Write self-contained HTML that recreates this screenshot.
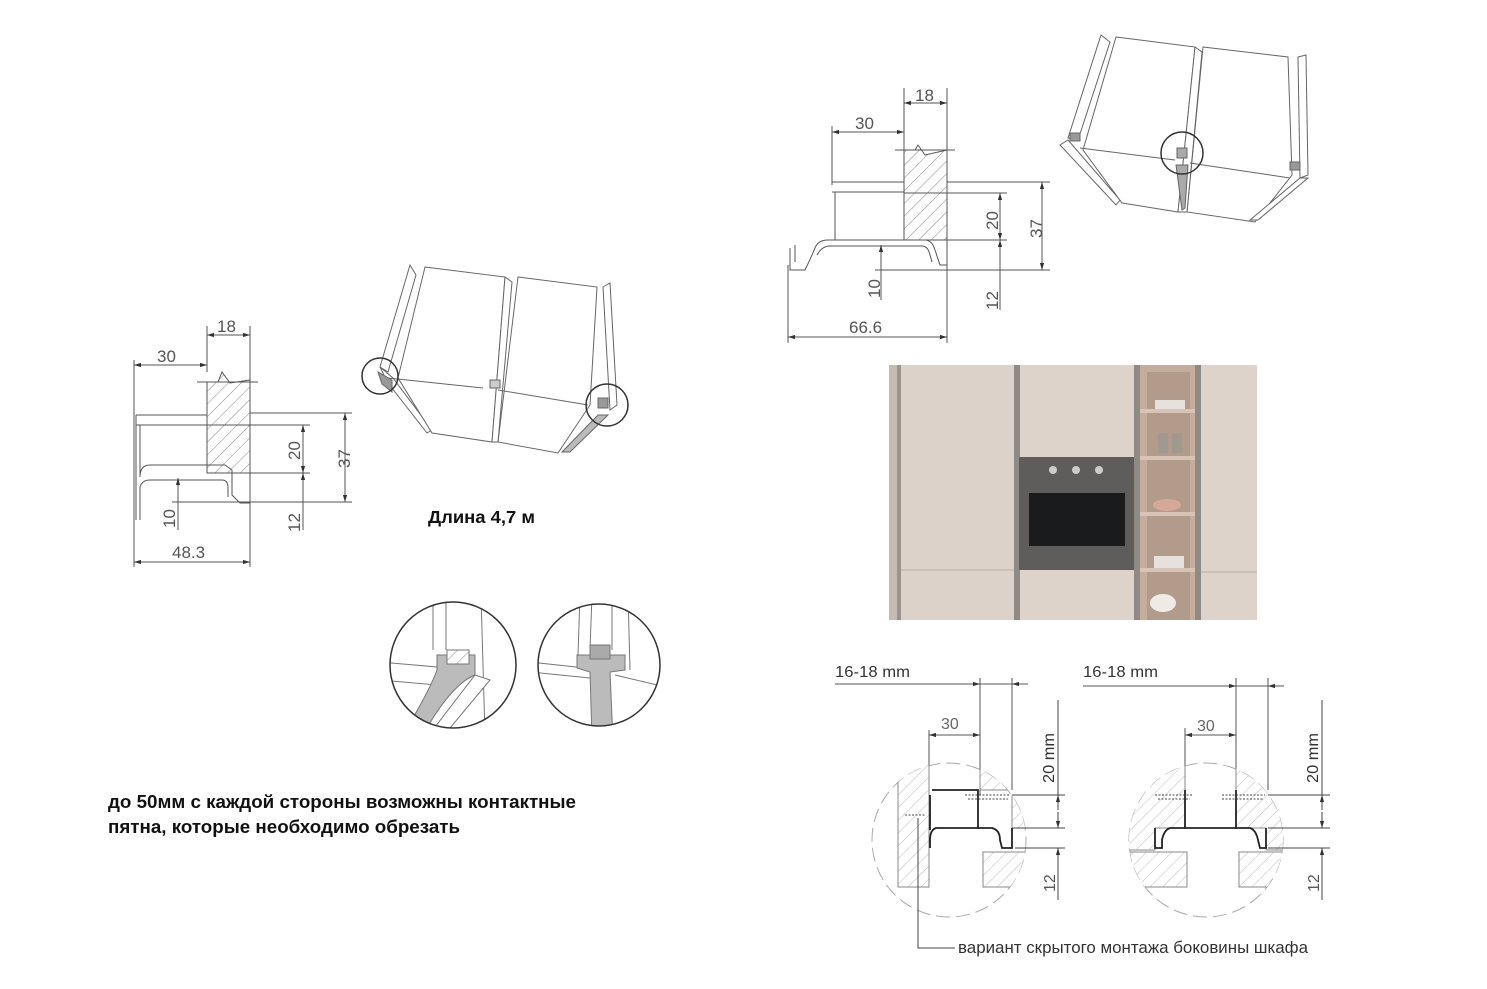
<!DOCTYPE html>
<html><head><meta charset="utf-8"><style>
html,body{margin:0;padding:0;background:#fff;}
svg{display:block;}
text{font-family:"Liberation Sans",sans-serif;}
</style></head><body>
<svg width="1487" height="989" viewBox="0 0 1487 989" xmlns="http://www.w3.org/2000/svg">
<defs>
<pattern id="h" width="9" height="9" patternUnits="userSpaceOnUse" patternTransform="rotate(45)">
<rect width="9" height="9" fill="#fff"/><line x1="0" y1="0" x2="0" y2="9" stroke="#888" stroke-width="1"/></pattern>
<pattern id="hl" width="9" height="9" patternUnits="userSpaceOnUse" patternTransform="rotate(45)">
<rect width="9" height="9" fill="#fff"/><line x1="0" y1="0" x2="0" y2="9" stroke="#bbb" stroke-width="1"/></pattern>
<marker id="a" viewBox="0 0 10 10" refX="10" refY="5" markerWidth="7" markerHeight="7" orient="auto-start-reverse"><path d="M0,2L10,5L0,8z" fill="#333"/></marker>
</defs>

<!-- ===== LEFT PROFILE ===== -->
<g stroke="#555" fill="none" stroke-width="1">
<line x1="134" y1="360" x2="134" y2="567"/>
<line x1="207" y1="326" x2="207" y2="372"/>
<line x1="250" y1="326" x2="250" y2="567"/>
<line x1="207" y1="335" x2="250" y2="335" marker-start="url(#a)" marker-end="url(#a)"/>
<line x1="134" y1="365" x2="207" y2="365" marker-start="url(#a)" marker-end="url(#a)"/>
<path d="M207,473 L207,382 L218,382 L222,372 L230,383 L250,380 L250,473 Z" fill="url(#h)"/>
<line x1="197" y1="382" x2="258" y2="382"/>
<path d="M136,415 L207,415 M136,425 L207,425 M140,425 L140,475 M136,415 L136,520"/>
<path d="M140,477 Q140,465 150,465 L225,465 L232,470 L232,495 L240,503 L250,503 L250,473"/>
<path d="M140,520 L140,487 Q142,480 150,480 L222,480 Q228,480 228,488 L228,497"/>
<line x1="250" y1="413" x2="352" y2="413"/><line x1="207" y1="425" x2="310" y2="425"/>
<line x1="250" y1="473" x2="310" y2="473"/><line x1="172" y1="502" x2="352" y2="502"/>
<line x1="345" y1="413" x2="345" y2="502" marker-start="url(#a)" marker-end="url(#a)"/>
<line x1="303" y1="425" x2="303" y2="473" marker-start="url(#a)" marker-end="url(#a)"/>
<line x1="303" y1="473" x2="303" y2="530" marker-start="url(#a)"/>
<line x1="178" y1="478" x2="178" y2="530" marker-start="url(#a)"/>
<line x1="134" y1="562" x2="250" y2="562" marker-start="url(#a)" marker-end="url(#a)"/>
</g>
<g fill="#555" font-size="17">
<text x="217" y="332">18</text><text x="157" y="362">30</text><text x="172" y="558">48.3</text>
<text transform="translate(300,460) rotate(-90)">20</text>
<text transform="translate(350,468) rotate(-90)">37</text>
<text transform="translate(300,532) rotate(-90)">12</text>
<text transform="translate(175,528) rotate(-90)">10</text>
</g>

<!-- ===== TOP RIGHT PROFILE ===== -->
<g stroke="#555" fill="none" stroke-width="1">
<line x1="832" y1="126" x2="832" y2="185"/>
<line x1="904" y1="88" x2="904" y2="150"/>
<line x1="947" y1="88" x2="947" y2="343"/>
<line x1="788" y1="265" x2="788" y2="343"/>
<line x1="904" y1="103" x2="947" y2="103" marker-start="url(#a)" marker-end="url(#a)"/>
<line x1="832" y1="132" x2="904" y2="132" marker-start="url(#a)" marker-end="url(#a)"/>
<path d="M904,240 L904,150 L915,150 L918,145 L925,155 L947,150 L947,240 Z" fill="url(#h)"/>
<line x1="895" y1="150" x2="955" y2="150"/>
<path d="M832,182 L904,182 M832,192 L904,192 M835,192 L835,240 M832,126 L832,185"/>
<path d="M790,248 L790,270 L805,270 Q810,260 815,248 Q818,240 828,240 L925,240 Q932,240 935,250 L940,265 L947,265"/>
<path d="M795,245 L795,262 M817,255 Q822,246 830,246 L922,246 Q928,246 930,255 L932,262"/>
<line x1="947" y1="182" x2="1050" y2="182"/><line x1="904" y1="193" x2="1007" y2="193"/>
<line x1="947" y1="240" x2="1007" y2="240"/><line x1="875" y1="270" x2="1050" y2="270"/>
<line x1="1042" y1="182" x2="1042" y2="270" marker-start="url(#a)" marker-end="url(#a)"/>
<line x1="1000" y1="193" x2="1000" y2="240" marker-start="url(#a)" marker-end="url(#a)"/>
<line x1="1000" y1="240" x2="1000" y2="310" marker-start="url(#a)"/>
<line x1="881" y1="245" x2="881" y2="300" marker-start="url(#a)"/>
<line x1="788" y1="337" x2="947" y2="337" marker-start="url(#a)" marker-end="url(#a)"/>
</g>
<g fill="#555" font-size="17">
<text x="915" y="101">18</text><text x="855" y="129">30</text><text x="849" y="333">66.6</text>
<text transform="translate(998,230) rotate(-90)">20</text>
<text transform="translate(1042,238) rotate(-90)">37</text>
<text transform="translate(998,310) rotate(-90)">12</text>
<text transform="translate(880,298) rotate(-90)">10</text>
</g>

<!-- ===== LEFT CABINET ISO ===== -->
<g stroke="#666" fill="#fff" stroke-width="1">
<path d="M410,265 L416,275 L388,372 L380,367 Z"/>
<path d="M380,367 L388,383 L427,433 L432,430 L393,378 Z"/>
<path d="M425,267 L505,277 L492,442 L432,433 L398,378 Z"/>
<path d="M518,277 L597,287 L590,405 L558,453 L498,442 Z"/>
<path d="M505,277 L512,282 L498,442 L492,442 Z"/>
<path d="M388,378 L483,388 M498,390 L588,405"/>
<path d="M603,287 L610,283 L617,405 L610,410 Z"/>
<path d="M598,415 L608,415 L570,452 L562,452 Z" fill="#bbb"/>
<rect x="490" y="380" width="10" height="8" fill="#ccc"/>
<path d="M378,372 L392,380 L392,392 L382,384 Z" fill="#999"/>
<rect x="598" y="398" width="10" height="10" fill="#999"/>
</g>
<circle cx="380" cy="376" r="18" stroke="#333" stroke-width="1.5" fill="none"/>
<circle cx="607" cy="405" r="21" stroke="#333" stroke-width="1.5" fill="none"/>

<!-- ===== TOP RIGHT CABINET ISO ===== -->
<g stroke="#666" fill="#fff" stroke-width="1">
<path d="M1101,35 L1110,42 L1078,140 L1068,138 Z"/>
<path d="M1060,145 L1068,140 L1120,200 L1116,205 Z"/>
<path d="M1116,37 L1195,47 L1178,212 L1122,203 L1083,150 Z"/>
<path d="M1203,47 L1288,57 L1292,175 L1255,222 L1187,212 Z"/>
<path d="M1195,47 L1202,52 L1187,212 L1178,212 Z"/>
<path d="M1080,148 L1175,160 M1190,163 L1290,178"/>
<path d="M1298,57 L1306,55 L1308,175 L1300,178 Z"/>
<path d="M1300,178 L1308,178 L1258,220 L1250,220 Z"/>
<path d="M1176,165 L1188,165 L1185,208 L1182,210 Z" fill="#aaa"/>
<rect x="1070" y="133" width="10" height="8" fill="#999"/>
<rect x="1290" y="162" width="10" height="8" fill="#999"/>
<rect x="1177" y="148" width="10" height="10" fill="#aaa"/>
</g>
<circle cx="1182" cy="153" r="21" stroke="#333" stroke-width="1.5" fill="none"/>

<!-- ===== DETAIL CIRCLES ===== -->
<g>
<clipPath id="c1"><circle cx="453" cy="665" r="63"/></clipPath>
<g clip-path="url(#c1)" stroke="#777" fill="#fff">
<path d="M433,595 L433,650 M446,595 L446,650 M481,595 L485,735"/>
<path d="M380,662 L437,667 L437,685 L380,680"/>
<path d="M437,655 L475,655 L475,675 Q450,685 420,740 L400,740 Q430,690 437,670 Z" fill="#bbb"/>
<rect x="447" y="650" width="22" height="14" fill="url(#h)"/>
<path d="M475,675 L490,680 L440,740 L425,740 Z" fill="#fff"/>
</g>
<circle cx="453" cy="665" r="63" fill="none" stroke="#333" stroke-width="1.5"/>
<clipPath id="c2"><circle cx="599" cy="665" r="61"/></clipPath>
<g clip-path="url(#c2)" stroke="#777" fill="#fff">
<path d="M580,595 L578,655 M592,595 L590,650 M612,595 L612,650 M628,595 L630,670"/>
<path d="M530,662 L585,668 M530,672 L590,678 M615,675 L670,688"/>
<path d="M577,655 L625,655 L625,670 L610,672 L613,740 L592,740 L590,672 L577,668 Z" fill="#bbb"/>
<rect x="590" y="645" width="20" height="14" fill="#aaa"/>
</g>
<circle cx="599" cy="665" r="61" fill="none" stroke="#333" stroke-width="1.5"/>
</g>

<!-- texts left -->
<text x="428" y="523" font-size="17.5" font-weight="bold" fill="#111" textLength="107" lengthAdjust="spacingAndGlyphs">Длина 4,7 м</text>
<text x="108" y="808" font-size="18.5" font-weight="bold" fill="#111" textLength="468" lengthAdjust="spacingAndGlyphs">до 50мм с каждой стороны возможны контактные</text>
<text x="108" y="833" font-size="18.5" font-weight="bold" fill="#111" textLength="352" lengthAdjust="spacingAndGlyphs">пятна, которые необходимо обрезать</text>

<!-- ===== PHOTO ===== -->
<g>
<rect x="889" y="365" width="368" height="255" fill="#d8cdc4"/>
<rect x="889" y="365" width="10" height="255" fill="#c6bbb2"/>
<rect x="897" y="365" width="4" height="255" fill="#9a948f"/>
<rect x="901" y="365" width="113" height="255" fill="#ddd2c9"/>
<line x1="901" y1="570" x2="1014" y2="570" stroke="#b8ada4"/>
<rect x="1014" y="365" width="6" height="255" fill="#8f8a86"/>
<rect x="1020" y="365" width="114" height="255" fill="#ddd3ca"/>
<rect x="1019" y="457" width="116" height="113" fill="#5f5d5b"/>
<rect x="1029" y="493" width="96" height="53" fill="#1a1b1c"/>
<circle cx="1053" cy="470" r="4" fill="#ccc"/><circle cx="1076" cy="470" r="4" fill="#ccc"/><circle cx="1099" cy="470" r="4" fill="#ccc"/>
<rect x="1134" y="365" width="6" height="255" fill="#8f8a86"/>
<rect x="1140" y="365" width="55" height="255" fill="#c5ad9d"/>
<rect x="1147" y="372" width="43" height="248" fill="#b39b8c"/>
<g fill="#d8c4b6"><rect x="1140" y="409" width="55" height="4"/><rect x="1140" y="456" width="55" height="4"/><rect x="1140" y="512" width="55" height="4"/><rect x="1140" y="568" width="55" height="4"/></g>
<rect x="1155" y="400" width="30" height="9" fill="#e6e1dc"/>
<rect x="1158" y="433" width="10" height="20" fill="#a09990"/><rect x="1172" y="433" width="10" height="20" fill="#a09990"/>
<ellipse cx="1167" cy="505" rx="14" ry="6" fill="#d6a899"/>
<rect x="1154" y="556" width="30" height="12" fill="#e6e1dc"/>
<ellipse cx="1163" cy="603" rx="13" ry="9" fill="#efeae5"/>
<rect x="1195" y="365" width="6" height="255" fill="#8f8a86"/>
<rect x="1201" y="365" width="56" height="255" fill="#ddd3ca"/>
<line x1="1201" y1="572" x2="1257" y2="572" stroke="#b8ada4"/>
</g>

<!-- ===== BOTTOM DETAIL LEFT ===== -->
<g stroke="#555" fill="none" stroke-width="1">
<line x1="835" y1="684" x2="1012" y2="684"/>
<line x1="980" y1="678" x2="980" y2="795"/><line x1="1012" y1="678" x2="1012" y2="790"/>
<line x1="965" y1="684" x2="980" y2="684" marker-end="url(#a)"/>
<line x1="1028" y1="684" x2="1012" y2="684" marker-end="url(#a)"/>
<line x1="929" y1="730" x2="929" y2="790"/>
<line x1="929" y1="735" x2="980" y2="735" marker-start="url(#a)" marker-end="url(#a)"/>
<circle cx="949" cy="840" r="77" stroke="#aaa" stroke-dasharray="14,6"/>
</g>
<clipPath id="c3"><circle cx="949" cy="840" r="77"/></clipPath>
<g clip-path="url(#c3)" stroke="#888" stroke-width="1">
<rect x="898" y="760" width="31" height="127" fill="url(#hl)"/>
<path d="M980,760 L1040,760 L1040,828 L1012,828 L1012,790 L980,790 Z" fill="url(#hl)"/>
<rect x="983" y="852" width="60" height="35" fill="url(#hl)"/>
</g>
<g stroke="#222" fill="none" stroke-width="1.8">
<path d="M932,790 L978,790 L978,828 L936,828 Q930,830 930,840 L930,848"/>
<path d="M978,828 L992,828 Q1000,830 1000,840 L1002,848 L1012,848 L1012,828"/>
<path d="M930,795 L930,830"/>
</g>
<g stroke="#444" stroke-width="1" fill="none">
<path d="M965,795 L1010,795 M968,799 L1008,799" stroke-dasharray="2,1.5"/>
<path d="M905,815 L925,815" stroke-dasharray="2,1.5"/>
<line x1="1012" y1="795" x2="1065" y2="795"/><line x1="1012" y1="828" x2="1065" y2="828"/>
<line x1="1015" y1="848" x2="1065" y2="848"/>
<line x1="1058" y1="700" x2="1058" y2="795"/>
<line x1="1058" y1="810" x2="1058" y2="795" marker-end="url(#a)"/>
<line x1="1058" y1="812" x2="1058" y2="828" marker-end="url(#a)"/>
<line x1="1058" y1="900" x2="1058" y2="848" marker-end="url(#a)"/>
<path d="M918,818 L918,948 L955,948"/>
</g>
<g fill="#333" font-size="16">
<text x="835" y="677" textLength="75" lengthAdjust="spacingAndGlyphs">16-18 mm</text>
<text x="941" y="729" fill="#666">30</text>
<text transform="translate(1054,783) rotate(-90)" textLength="50" lengthAdjust="spacingAndGlyphs">20 mm</text>
<text transform="translate(1055,892) rotate(-90)" fill="#555">12</text>
</g>

<!-- ===== BOTTOM DETAIL RIGHT ===== -->
<g stroke="#555" fill="none" stroke-width="1">
<line x1="1083" y1="686" x2="1268" y2="686"/>
<line x1="1236" y1="678" x2="1236" y2="795"/><line x1="1268" y1="678" x2="1268" y2="790"/>
<line x1="1221" y1="686" x2="1236" y2="686" marker-end="url(#a)"/>
<line x1="1284" y1="686" x2="1268" y2="686" marker-end="url(#a)"/>
<line x1="1185" y1="728" x2="1185" y2="790"/>
<line x1="1185" y1="735" x2="1236" y2="735" marker-start="url(#a)" marker-end="url(#a)"/>
<circle cx="1206" cy="840" r="77" stroke="#aaa" stroke-dasharray="14,6"/>
</g>
<clipPath id="c4"><circle cx="1206" cy="840" r="77"/></clipPath>
<g clip-path="url(#c4)" stroke="#888" stroke-width="1">
<path d="M1120,760 L1185,760 L1185,828 L1155,828 L1155,850 L1120,850 Z" fill="url(#hl)"/>
<path d="M1236,760 L1300,760 L1300,850 L1266,850 L1266,828 L1236,828 Z" fill="url(#hl)"/>
<rect x="1130" y="852" width="57" height="35" fill="url(#hl)"/>
<rect x="1239" y="852" width="57" height="35" fill="url(#hl)"/>
</g>
<g stroke="#222" fill="none" stroke-width="1.8">
<path d="M1185,790 L1185,828 L1170,828 Q1164,830 1162,840 L1162,848 L1155,848 L1155,828"/>
<path d="M1236,790 L1236,828 L1250,828 Q1256,830 1258,840 L1260,848 L1266,848 L1266,828"/>
<path d="M1185,828 L1236,828"/>
</g>
<g stroke="#444" stroke-width="1" fill="none">
<path d="M1155,795 L1192,795 M1158,799 L1190,799 M1222,795 L1265,795 M1222,799 L1263,799" stroke-dasharray="2,1.5"/>
<line x1="1268" y1="795" x2="1330" y2="795"/><line x1="1268" y1="828" x2="1330" y2="828"/>
<line x1="1268" y1="848" x2="1330" y2="848"/>
<line x1="1322" y1="700" x2="1322" y2="795"/>
<line x1="1322" y1="810" x2="1322" y2="795" marker-end="url(#a)"/>
<line x1="1322" y1="812" x2="1322" y2="828" marker-end="url(#a)"/>
<line x1="1322" y1="900" x2="1322" y2="848" marker-end="url(#a)"/>
</g>
<g fill="#333" font-size="16">
<text x="1083" y="677" textLength="75" lengthAdjust="spacingAndGlyphs">16-18 mm</text>
<text x="1197" y="731" fill="#666">30</text>
<text transform="translate(1318,783) rotate(-90)" textLength="50" lengthAdjust="spacingAndGlyphs">20 mm</text>
<text transform="translate(1319,892) rotate(-90)" fill="#555">12</text>
</g>
<text x="958" y="953" font-size="16.5" fill="#333" textLength="350" lengthAdjust="spacingAndGlyphs">вариант скрытого монтажа боковины шкафа</text>
</svg>
</body></html>
